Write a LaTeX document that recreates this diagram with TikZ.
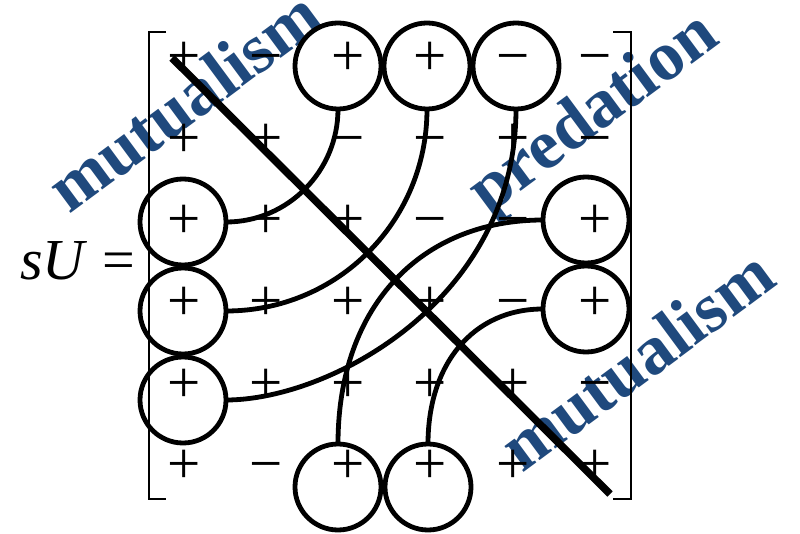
\documentclass[tikz,border=0pt]{standalone}
\usepackage{fontspec}
\setmainfont{Liberation Serif}
\definecolor{labelblue}{RGB}{31,73,125}
\begin{document}
\begin{tikzpicture}[x=1pt,y=-1pt,
  sgn/.style={anchor=base,yshift=-14.7pt,inner sep=0pt,font=\fontsize{59}{60}\selectfont},
  circ/.style={circle,draw,line width=4.8pt,minimum size=86pt,inner sep=0pt,outer sep=0pt},
  link/.style={line width=4.8pt},
  lbl/.style={anchor=base,rotate=36.5,text=labelblue,font=\bfseries\fontsize{70}{72}\selectfont,inner sep=0pt},
  brk/.style={line width=2.5pt},
  diag/.style={line width=7.5pt}]
\useasboundingbox (0,0) rectangle (800,534);
% labels (behind the black drawing)
\node[lbl] (m1) at (198,120) {mutualism};
\node[lbl] (pr) at (605,129) {predation};
\node[lbl] (m2) at (651,379) {mutualism};
% left-hand side
\node[anchor=base west,inner sep=0pt,font=\fontsize{58}{60}\selectfont] (lhs) at (20,280) {\textit{sU} =};
% brackets
\draw[brk] (166,32) -- (149,32) -- (149,499) -- (166,499);
\draw[brk] (613,32) -- (631,32) -- (631,499) -- (613,499);
% signs
\foreach \r/\row in {1/{+,−,+,+,−,−},2/{+,+,−,−,+,−},3/{+,+,+,−,−,+},4/{+,+,+,+,−,+},5/{+,+,+,+,+,−},6/{+,−,+,+,+,+}}{
  \foreach \s [count=\c] in \row {
    \node[sgn] (s\r\c) at ({184+(\c-1)*82.2},{61+(\r-1)*81.6}) {\s};
  }
}
% circles
\node[circ] (c13) at (338,66) {};
\node[circ] (c14) at (427,66) {};
\node[circ] (c15) at (516,66) {};
\node[circ] (c31) at (183,222) {};
\node[circ] (c41) at (183,311) {};
\node[circ] (c51) at (183,400) {};
\node[circ] (c36) at (586,220) {};
\node[circ] (c46) at (586,309) {};
\node[circ] (c63) at (338,487) {};
\node[circ] (c64) at (428,487) {};
% diagonal
\coordinate (d1) at (172,58);
\coordinate (d2) at (610,494);
\draw[diag] (d1) -- (d2);
% connectors
\draw[link] (c13.south) .. controls +(0,62) and +(62,0) .. (c31.east);
\draw[link] (c14.south) .. controls +(0,112) and +(112,0) .. (c41.east);
\draw[link] (c15.south) .. controls +(0,191) and +(104,0) .. (c51.east);
\draw[link] (c36.west) .. controls +(-120,0) and +(0,-140) .. (c63.north);
\draw[link] (c46.west) .. controls +(-70,0) and +(0,-80) .. (c64.north);
\end{tikzpicture}
\end{document}
